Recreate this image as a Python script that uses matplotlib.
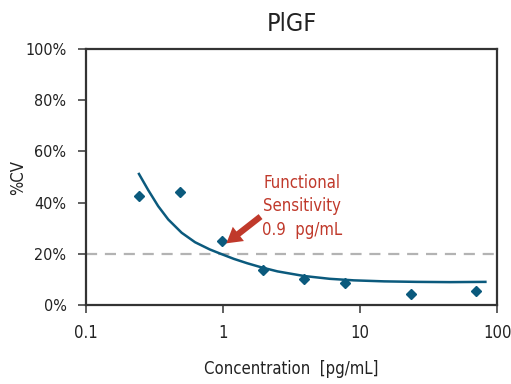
import matplotlib
matplotlib.use("Agg")
import matplotlib.pyplot as plt
from matplotlib.ticker import FixedLocator, NullLocator

plt.rcParams['font.family'] = ['DejaVu Sans']
plt.rcParams['font.stretch'] = 'condensed'

# measured points
conc = [0.244, 0.488, 0.977, 1.95, 3.9, 7.8, 23.4, 70]
cv = [42.7, 44.0, 25.0, 13.7, 10.0, 8.5, 4.2, 5.6]

# fitted curve
curve_x = [0.244, 0.285, 0.337, 0.399, 0.5, 0.626, 0.8, 0.95,
           1.2, 1.5, 1.9, 2.5, 3.9, 6.0, 9.0, 15, 26, 45, 82]
curve_y = [51.2, 44.9, 38.6, 33.4, 28.2, 24.5, 21.7, 20.1,
           18.0, 16.3, 14.7, 13.1, 11.3, 10.2, 9.6, 9.2, 9.0, 8.9, 9.0]

xticks = [0.1, 1, 10, 100]
xlabels = ['0.1', '1', '10', '100']
yticks = [0, 20, 40, 60, 80, 100]
ylabels = ['0%', '20%', '40%', '60%', '80%', '100%']

blue = '#0b5a7d'
red = '#c0392b'

fig = plt.figure(figsize=(5.11, 3.84), dpi=100)
ax = fig.add_axes([0.168, 0.206, 0.805, 0.666])

ax.axhline(20, color='#b3b3b3', lw=1.6, ls=(0, (5, 3.5)), zorder=1)
ax.plot(curve_x, curve_y, color=blue, lw=1.8, zorder=2)
ax.plot(conc, cv, ls='none', marker='D', ms=5.5, color=blue, zorder=3)

ax.set_xscale('log')
ax.set_xlim(0.1, 100)
ax.set_ylim(0, 100)
ax.xaxis.set_major_locator(FixedLocator(xticks))
ax.xaxis.set_minor_locator(NullLocator())
ax.set_xticklabels(xlabels, fontsize=12, color='#222222')
ax.set_yticks(yticks)
ax.set_yticklabels(ylabels, fontsize=11.5, color='#222222')

for s in ax.spines.values():
    s.set_color('#333333')
    s.set_linewidth(1.6)
ax.tick_params(length=6, width=1.2, color='#444444', pad=8)

ax.set_title('PlGF', fontsize=18, color='#222222', pad=13)
ax.set_xlabel('Concentration  [pg/mL]', fontsize=12, color='#222222', labelpad=13)
ax.set_ylabel('%CV', fontsize=12, color='#222222')
ax.yaxis.set_label_coords(-0.1435, 0.5)

ax.annotate('', xy=(1.02, 23.4), xytext=(1.95, 35.2),
            arrowprops=dict(arrowstyle='simple,head_width=1.3,head_length=1.1,tail_width=0.45',
                            mutation_scale=10, color=red, lw=0))
ax.text(3.78, 38.5, 'Functional\nSensitivity\n0.9  pg/mL', color=red, fontsize=12,
        ha='center', va='center', linespacing=1.4)

fig.savefig('out.png', dpi=100)
